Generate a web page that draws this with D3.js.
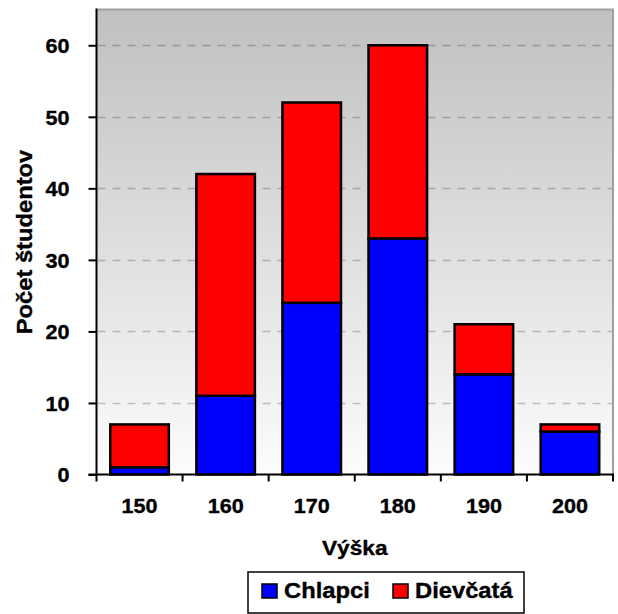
<!DOCTYPE html>
<html>
<head>
<meta charset="utf-8">
<script src="https://cdn.jsdelivr.net/npm/d3@7"></script>
<style>
  html, body { margin: 0; padding: 0; background: #fff; }
  svg text { font-family: "Liberation Sans", Arial, sans-serif; font-weight: bold; fill: #000;
             stroke: #000; stroke-width: 0.35px; }
</style>
</head>
<body>
<svg id="chart" width="618" height="614"></svg>
<script>
// Students by height, split by gender
const heights = ["150", "160", "170", "180", "190", "200"];
const boys = [1, 11, 24, 33, 14, 6];
const girls = [6, 31, 28, 27, 7, 1];
const yTicks = [0, 10, 20, 30, 40, 50, 60];
const seriesNames = ["Chlapci", "Dievčatá"];
const seriesColors = ["#0000ff", "#ff0000"];

const svg = d3.select("#chart");
const plot = { left: 96.5, right: 613, top: 9.5, bottom: 474.5 };
const WIDE = 1.08; // horizontal widening of the labels

const x = d3.scaleBand()
  .domain(heights)
  .range([plot.left, plot.right])
  .paddingInner(0.32)
  .paddingOuter(0.16);

const y = d3.scaleLinear().domain([0, 65]).range([plot.bottom, plot.top]);

// Plot background gradient
const defs = svg.append("defs");
const grad = defs.append("linearGradient")
  .attr("id", "bg").attr("x1", 0).attr("y1", 0).attr("x2", 0).attr("y2", 1);
grad.append("stop").attr("offset", "0%").attr("stop-color", "#c0c0c0");
grad.append("stop").attr("offset", "100%").attr("stop-color", "#fcfcfc");

svg.append("rect")
  .attr("x", plot.left).attr("y", plot.top)
  .attr("width", plot.right - plot.left).attr("height", plot.bottom - plot.top)
  .attr("fill", "url(#bg)");

// Top / right frame
svg.append("path")
  .attr("d", `M${plot.left},${plot.top}H${plot.right}V${plot.bottom}`)
  .attr("fill", "none").attr("stroke", "#a0a0a0").attr("stroke-width", 2);

// Dashed gridlines (translucent, so they darken with the background)
svg.append("g").selectAll("line")
  .data(yTicks.filter(d => d > 0))
  .join("line")
  .attr("x1", plot.left + 1).attr("x2", plot.right - 1)
  .attr("y1", d => Math.round(y(d)) + 0.5).attr("y2", d => Math.round(y(d)) + 0.5)
  .attr("stroke", "#000").attr("stroke-opacity", 0.22).attr("stroke-width", 1.3)
  .attr("stroke-dasharray", "8,7");

// Stacked bars
const stackData = heights.map((h, i) => ({ h, Chlapci: boys[i], "Dievčatá": girls[i] }));
const stacked = d3.stack().keys(seriesNames)(stackData);

svg.append("g").selectAll("g")
  .data(stacked)
  .join("g")
  .attr("fill", (d, i) => seriesColors[i])
  .selectAll("rect")
  .data(d => d)
  .join("rect")
  .attr("x", d => x(d.data.h))
  .attr("y", d => y(d[1]))
  .attr("width", x.bandwidth())
  .attr("height", d => y(d[0]) - y(d[1]))
  .attr("stroke", "#000")
  .attr("stroke-width", 2.5);

// Y axis
const yAxis = svg.append("g")
  .attr("transform", `translate(${plot.left},0)`)
  .call(d3.axisLeft(y).tickValues(yTicks).tickSize(8).tickPadding(17));
yAxis.select(".domain").attr("stroke", "#000").attr("stroke-width", 2)
  .attr("d", `M0,${plot.top - 1}V${plot.bottom + 1}`);
yAxis.selectAll(".tick line").attr("stroke", "#000").attr("stroke-width", 2);
yAxis.selectAll(".tick text")
  .style("font-size", "20px")
  .attr("dy", "0.36em")
  .attr("transform", `scale(${WIDE},1)`);

// X axis with ticks at category boundaries
const boundaries = heights.map(h => x(h) - x.step() * x.paddingInner() / 2);
boundaries.push(plot.right);
const xAxisG = svg.append("g");
xAxisG.append("line")
  .attr("x1", plot.left - 8).attr("x2", plot.right + 1)
  .attr("y1", plot.bottom).attr("y2", plot.bottom)
  .attr("stroke", "#000").attr("stroke-width", 2);
xAxisG.selectAll("line.tk")
  .data(boundaries)
  .join("line")
  .attr("class", "tk")
  .attr("x1", d => d).attr("x2", d => d)
  .attr("y1", plot.bottom).attr("y2", plot.bottom + 7)
  .attr("stroke", "#000").attr("stroke-width", 2);
xAxisG.selectAll("text")
  .data(heights)
  .join("text")
  .attr("transform", d => `translate(${x(d) + x.bandwidth() / 2},513) scale(${WIDE},1)`)
  .attr("text-anchor", "middle")
  .style("font-size", "20px")
  .text(d => d);

// Axis titles
svg.append("text")
  .attr("transform", `translate(${(plot.left + plot.right) / 2},555) scale(${WIDE},1)`)
  .attr("text-anchor", "middle")
  .style("font-size", "21px")
  .text("Výška");

svg.append("text")
  .attr("transform", `translate(32,${(plot.top + plot.bottom) / 2}) rotate(-90) scale(${WIDE},1)`)
  .attr("text-anchor", "middle")
  .style("font-size", "22px")
  .text("Počet študentov");

// Legend
const legend = svg.append("g");
legend.append("rect")
  .attr("x", 248).attr("y", 572).attr("width", 276).attr("height", 41)
  .attr("fill", "#fff").attr("stroke", "#000").attr("stroke-width", 1.5);
const legendX = [262, 393];
seriesNames.forEach((name, i) => {
  legend.append("rect")
    .attr("x", legendX[i]).attr("y", 584).attr("width", 15).attr("height", 14)
    .attr("fill", seriesColors[i]).attr("stroke", "#000").attr("stroke-width", 1.5);
  legend.append("text")
    .attr("transform", `translate(${legendX[i] + 22},598) scale(${WIDE},1)`)
    .style("font-size", "22px")
    .text(name);
});
</script>
</body>
</html>
